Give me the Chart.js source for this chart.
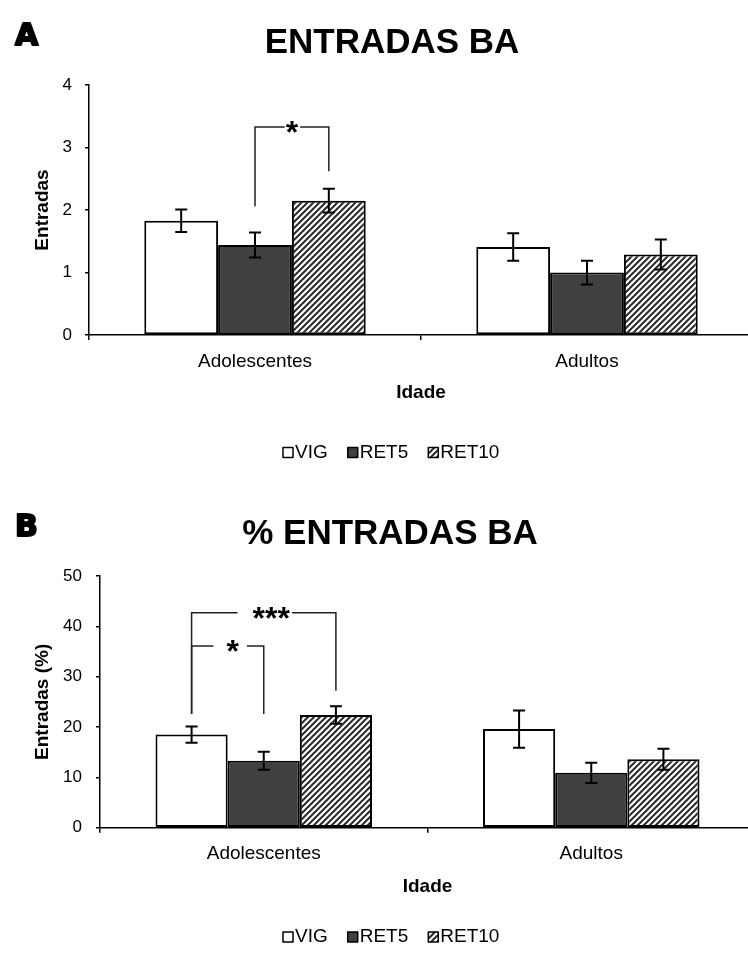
<!DOCTYPE html>
<html>
<head>
<meta charset="utf-8">
<script src="https://cdn.jsdelivr.net/npm/chart.js@4.4.1/dist/chart.umd.min.js"></script>
<style>
  html, body { margin: 0; padding: 0; background: #fff; overflow: hidden; width: 748px; height: 958px; }
  canvas { position: absolute; left: 0; }
</style>
</head>
<body>
<canvas id="chartA" width="760" height="479" style="top:0"></canvas>
<canvas id="chartB" width="760" height="479" style="top:479px"></canvas>
<script>
const categories = ['Adolescentes', 'Adultos'];
const groups = ['VIG', 'RET5', 'RET10'];

// A - entradas no braco aberto (media e EPM)
const entradasVIG = [1.83, 1.41];
const entradasRET5 = [1.44, 1.00];
const entradasRET10 = [2.15, 1.29];
const entradasErrVIG = [0.18, 0.22];
const entradasErrRET5 = [0.20, 0.19];
const entradasErrRET10 = [0.19, 0.24];
const entradasTicks = [0, 1, 2, 3, 4];

// B - % de entradas no braco aberto
const pctVIG = [18.5, 19.6];
const pctRET5 = [13.3, 10.9];
const pctRET10 = [22.4, 13.6];
const pctErrVIG = [1.6, 3.7];
const pctErrRET5 = [1.8, 2.0];
const pctErrRET10 = [1.75, 2.1];
const pctTicks = [0, 10, 20, 30, 40, 50];

// comparacoes significativas: categoria, grupo de/ate, altura da linha, pes, rotulo
const entradasSig = [
  { cat: 0, from: 1, to: 2, top: 3.33, legFrom: 2.06, legTo: 2.62, label: '*' }
];
const pctSig = [
  { cat: 0, from: 0, to: 2, top: 42.7, legFrom: 22.6, legTo: 27.2, label: '***' },
  { cat: 0, from: 0, to: 1, top: 36.1, legFrom: 22.6, legTo: 22.6, label: '*' }
];

const FONT = "'Liberation Sans', Arial, sans-serif";

function hatch() {
  const c = document.createElement('canvas');
  c.width = 6; c.height = 6;
  const g = c.getContext('2d');
  g.fillStyle = '#fff';
  g.fillRect(0, 0, 6, 6);
  g.strokeStyle = '#2a2a2a';
  g.lineWidth = 2;
  g.beginPath();
  g.moveTo(0, 6); g.lineTo(6, 0);
  g.moveTo(-3, 3); g.lineTo(3, -3);
  g.moveTo(3, 9); g.lineTo(9, 3);
  g.stroke();
  return g.createPattern(c, 'repeat');
}

const panelPlugin = {
  id: 'panel',
  afterDatasetsDraw(chart) {
    const o = chart.options.plugins.panel;
    const ctx = chart.ctx;
    const y = chart.scales.y;
    ctx.save();
    // barras de erro
    ctx.strokeStyle = '#000';
    ctx.lineWidth = 2;
    chart.data.datasets.forEach((ds, i) => {
      chart.getDatasetMeta(i).data.forEach((bar, j) => {
        const v = ds.data[j], e = ds.errors[j];
        const t = y.getPixelForValue(v + e), b = y.getPixelForValue(v - e);
        ctx.beginPath();
        ctx.moveTo(bar.x, t); ctx.lineTo(bar.x, b);
        ctx.moveTo(bar.x - 6, t); ctx.lineTo(bar.x + 6, t);
        ctx.moveTo(bar.x - 6, b); ctx.lineTo(bar.x + 6, b);
        ctx.stroke();
      });
    });
    // colchetes de significancia
    ctx.lineWidth = 1.5;
    ctx.strokeStyle = '#222';
    o.sig.forEach((s, k) => {
      const x1 = chart.getDatasetMeta(s.from).data[s.cat].x;
      const x2 = chart.getDatasetMeta(s.to).data[s.cat].x;
      const yt = y.getPixelForValue(s.top);
      const st = o.sigStyle[k];
      ctx.font = 'bold 32px ' + FONT;
      const m = ctx.measureText(s.label);
      const cx = (x1 + x2) / 2 + st.shift;
      const g1 = cx - m.width / 2 - st.gap[0];
      const g2 = cx + m.width / 2 + st.gap[1];
      ctx.beginPath();
      ctx.moveTo(x1, y.getPixelForValue(s.legFrom)); ctx.lineTo(x1, yt); ctx.lineTo(g1, yt);
      ctx.moveTo(g2, yt); ctx.lineTo(x2, yt); ctx.lineTo(x2, y.getPixelForValue(s.legTo));
      ctx.stroke();
      ctx.fillStyle = '#000';
      ctx.textAlign = 'center';
      ctx.textBaseline = 'alphabetic';
      const asc = m.actualBoundingBoxAscent, desc = m.actualBoundingBoxDescent;
      ctx.fillText(s.label, cx, yt + (asc - desc) / 2);
    });
    ctx.restore();
  },
  afterDraw(chart) {
    const o = chart.options.plugins.panel;
    const ctx = chart.ctx;
    const area = chart.chartArea;
    ctx.save();
    ctx.fillStyle = '#000';
    // letra do painel (traco extra para ficar mais pesada)
    ctx.font = 'bold 30px "DejaVu Sans", sans-serif';
    ctx.textAlign = 'left';
    ctx.textBaseline = 'alphabetic';
    ctx.strokeStyle = '#000';
    ctx.lineWidth = 2;
    ctx.lineJoin = 'round';
    ctx.strokeText(o.letter, 15, o.letterY);
    ctx.fillText(o.letter, 15, o.letterY);
    // titulo
    ctx.font = 'bold 35px ' + FONT;
    ctx.textAlign = 'center';
    ctx.fillText(o.title, o.titleX, o.titleY);
    // titulos dos eixos
    ctx.font = 'bold 19px ' + FONT;
    ctx.fillText('Idade', (area.left + area.right) / 2, o.xTitleY);
    ctx.save();
    ctx.translate(o.yTitleX, (area.top + area.bottom) / 2);
    ctx.rotate(-Math.PI / 2);
    ctx.textBaseline = 'middle';
    ctx.fillText(o.yTitle, 0, 0);
    ctx.restore();
    // legenda
    ctx.font = '19px ' + FONT;
    ctx.textAlign = 'left';
    ctx.textBaseline = 'middle';
    let x = o.legendX;
    chart.data.datasets.forEach(ds => {
      ctx.fillStyle = ds.backgroundColor;
      ctx.fillRect(x, o.legendY - 5, 10, 10);
      ctx.strokeStyle = '#000';
      ctx.lineWidth = 1.5;
      ctx.strokeRect(x, o.legendY - 5, 10, 10);
      ctx.fillStyle = '#000';
      ctx.fillText(ds.label, x + 12, o.legendY);
      x += 12 + ctx.measureText(ds.label).width + 20;
    });
    ctx.restore();
  }
};

function makeChart(id, values, errors, ticks, sig, look) {
  const pattern = hatch();
  const fills = ['#ffffff', '#404040', pattern];
  return new Chart(document.getElementById(id), {
    type: 'bar',
    data: {
      labels: categories,
      datasets: groups.map((g, i) => ({
        label: g,
        data: values[i],
        errors: errors[i],
        backgroundColor: fills[i],
        borderColor: '#000',
        borderWidth: 2,
        borderSkipped: false,
        categoryPercentage: look.catPct,
        barPercentage: 1.0
      }))
    },
    options: {
      responsive: false,
      animation: false,
      devicePixelRatio: 1,
      layout: { padding: { top: look.top, left: 0, right: look.right, bottom: 0 } },
      plugins: {
        legend: { display: false },
        tooltip: { enabled: false },
        panel: Object.assign({ sig: sig }, look)
      },
      scales: {
        x: {
          afterFit: s => { s.height = look.xHeight; },
          grid: { drawOnChartArea: false, tickLength: 5, color: '#000', lineWidth: 1.5, offset: true },
          border: { color: '#000', width: 1.5 },
          ticks: { color: '#000', padding: 10, font: { family: FONT, size: 19 } }
        },
        y: {
          min: ticks[0],
          max: ticks[ticks.length - 1],
          afterFit: s => { s.width = look.left; },
          afterBuildTicks: s => { s.ticks = ticks.map(v => ({ value: v })); },
          grid: { drawOnChartArea: false, tickLength: 4, color: '#000', lineWidth: 1.5 },
          border: { color: '#000', width: 1.5 },
          ticks: { color: '#000', padding: look.yTickPad, font: { family: FONT, size: 17 } }
        }
      }
    },
    plugins: [panelPlugin]
  });
}

makeChart('chartA',
  [entradasVIG, entradasRET5, entradasRET10],
  [entradasErrVIG, entradasErrRET5, entradasErrRET10],
  entradasTicks, entradasSig,
  {
    letter: 'A', letterY: 45, title: 'ENTRADAS BA', titleX: 392, titleY: 53,
    yTitle: 'Entradas', yTitleX: 42.5, xTitleY: 398, legendX: 283, legendY: 452.5,
    top: 85, left: 89, right: 7, xHeight: 144, yTickPad: 13, catPct: 0.667,
    sigStyle: [{ shift: 0, gap: [1, 2] }]
  });

makeChart('chartB',
  [pctVIG, pctRET5, pctRET10],
  [pctErrVIG, pctErrRET5, pctErrRET10],
  pctTicks, pctSig,
  {
    letter: 'B', letterY: 57, title: '% ENTRADAS BA', titleX: 390, titleY: 65,
    yTitle: 'Entradas (%)', yTitleX: 43, xTitleY: 413, legendX: 283, legendY: 458,
    top: 97, left: 100, right: 5, xHeight: 130.3, yTickPad: 14, catPct: 0.661,
    sigStyle: [{ shift: 7.5, gap: [15, 2] }, { shift: 5, gap: [13, 8] }]
  });
</script>
</body>
</html>
